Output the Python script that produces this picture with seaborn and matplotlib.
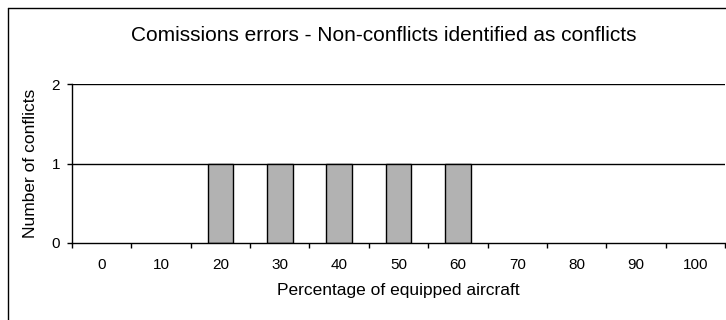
import numpy as np
import pandas as pd
import seaborn as sns
import matplotlib.pyplot as plt
from matplotlib.lines import Line2D

# --- data ---
percent_equipped = ['0', '10', '20', '30', '40', '50', '60', '70', '80', '90', '100']
n_conflicts = [0, 0, 1, 1, 1, 1, 1, 0, 0, 0, 0]
y_ticks = [0, 1, 2]

df = pd.DataFrame({'Percent': percent_equipped, 'Conflicts': n_conflicts})

sns.set_theme(style="white")
plt.rcParams['font.family'] = ['Liberation Sans', 'DejaVu Sans']

fig = plt.figure(figsize=(7.26, 3.2), dpi=100)
ax = fig.add_axes([72 / 726, 1 - 243 / 320, 653 / 726, (243 - 84) / 320])

sns.barplot(data=df, x='Percent', y='Conflicts', order=percent_equipped,
            color='#b2b2b2', edgecolor='black', linewidth=1.0,
            width=0.43, saturation=1, ax=ax)

# empty categories should not leave an outline on the axis
for patch in ax.patches:
    if patch.get_height() == 0:
        patch.set_linewidth(0)

ax.set_xlim(-0.5, len(percent_equipped) - 0.5)
ax.set_ylim(0, 2)
ax.set_yticks(y_ticks)
ax.set_yticklabels([str(v) for v in y_ticks])

# gridlines at the y ticks, like the spreadsheet chart
for v in y_ticks[1:]:
    ax.axhline(v, color='black', linewidth=1.0, zorder=0)

for side in ['top', 'right']:
    ax.spines[side].set_visible(False)
for side in ['left', 'bottom']:
    ax.spines[side].set_color('black')
    ax.spines[side].set_linewidth(1.0)
    ax.spines[side].set_zorder(5)

# labels centred on categories, tick marks between categories
ax.set_xticks(range(len(percent_equipped)))
ax.set_xticks(np.arange(-0.5, len(percent_equipped)), minor=True)
ax.tick_params(axis='x', which='major', length=0, labelsize=11, pad=10.5, colors='black')
ax.tick_params(axis='x', which='minor', length=3.5, width=1.0, direction='out',
               color='black', bottom=True)
ax.tick_params(axis='y', length=3.5, width=1.0, direction='out', left=True,
               labelsize=11, pad=5, colors='black')

ax.set_xlabel('Percentage of equipped aircraft', fontsize=12.5, labelpad=8, color='black')
ax.set_ylabel('Number of conflicts', fontsize=12.5, labelpad=10, color='black')

fig.text(384 / 726, 1 - 41 / 320, 'Comissions errors - Non-conflicts identified as conflicts',
         ha='center', va='baseline', fontsize=15, color='black')

# chart frame (only left and top edges fall inside the image)
fig.add_artist(Line2D([7.5 / 726, 7.5 / 726], [0, 1 - 7.5 / 320], transform=fig.transFigure,
                      color='black', linewidth=1.0))
fig.add_artist(Line2D([7.5 / 726, 1], [1 - 7.5 / 320, 1 - 7.5 / 320], transform=fig.transFigure,
                      color='black', linewidth=1.0))

fig.savefig('out.png', dpi=100, facecolor='white')
